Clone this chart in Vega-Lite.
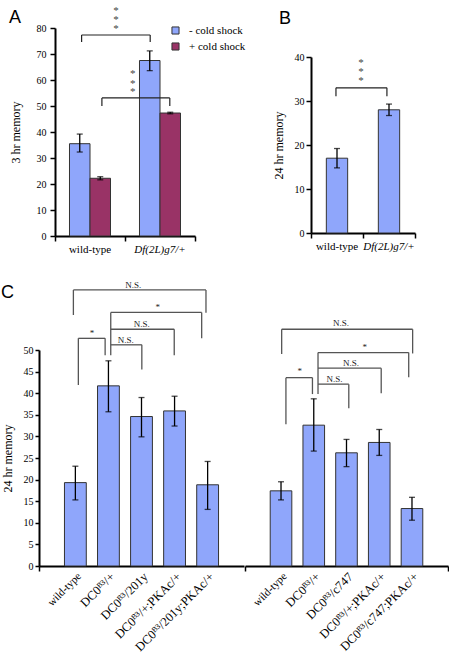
{
  "$schema": "https://vega.github.io/schema/vega-lite/v6.json",
  "padding": {"left": 1, "top": 4, "right": 0, "bottom": 0},
  "config": {
    "font": "Liberation Serif",
    "view": {"stroke": null},
    "axis": {"domainColor": "black", "domainWidth": 2, "tickColor": "black", "tickWidth": 1.5, "tickSize": 5, "labelColor": "black", "titleColor": "black", "labelFont": "Liberation Serif", "titleFont": "Liberation Serif", "titleFontWeight": "normal", "grid": false, "labelFontSize": 10, "titleFontSize": 12, "labelPadding": 2, "labelOverlap": false},
    "title": {"font": "Liberation Sans", "fontSize": 18, "fontWeight": "normal", "anchor": "start", "color": "black"}
  },
  "spacing": 27,
  "vconcat": [
    {
      "spacing": 76,
      "hconcat": [
        {
          "width": 156, "height": 208,
          "title": {"text": "A", "offset": -22},
          "layer": [
            {
              "data": {"values": [
                {"g": "wild-type", "s": "- cold shock", "v": 35.5, "lo": 32.3, "hi": 39.2},
                {"g": "wild-type", "s": "+ cold shock", "v": 22.2, "lo": 21.6, "hi": 22.8},
                {"g": "Df(2L)g7/+", "s": "- cold shock", "v": 67.5, "lo": 63.6, "hi": 71.2},
                {"g": "Df(2L)g7/+", "s": "+ cold shock", "v": 47.3, "lo": 47.0, "hi": 47.6}
              ]},
              "encoding": {
                "x": {"field": "g", "type": "nominal", "sort": null, "scale": {"paddingInner": 0, "paddingOuter": 0, "range": [16, 156]},
                  "axis": {"title": null, "labelAngle": 0, "ticks": false, "labelFontSize": 11, "labelPadding": 7,
                    "labelFontStyle": {"condition": {"test": "datum.value == 'Df(2L)g7/+'", "value": "italic"}, "value": "normal"}}},
                "xOffset": {"field": "s", "type": "nominal", "sort": null, "scale": {"paddingInner": 0, "paddingOuter": 0.707}}
              },
              "layer": [
                {
                  "mark": {"type": "bar", "stroke": "#333333", "strokeWidth": 1},
                  "encoding": {
                    "y": {"field": "v", "type": "quantitative", "scale": {"domain": [0, 80]},
                      "axis": {"title": "3 hr memory", "values": [0, 10, 20, 30, 40, 50, 60, 70, 80], "tickCount": 9, "titlePadding": 14, "labelPadding": 4, "offset": -16}},
                    "color": {"field": "s", "type": "nominal", "sort": null, "scale": {"range": ["#8fa6fb", "#993366"]},
                      "legend": {"title": null, "orient": "none", "legendX": 131, "legendY": -3, "symbolType": "square", "symbolSize": 50, "symbolStrokeColor": "#333333", "symbolStrokeWidth": 1, "labelFontSize": 11, "labelFont": "Liberation Serif", "labelColor": "black", "labelOffset": 8, "rowPadding": 3, "padding": 0}}
                  }
                },
                {"mark": {"type": "rule", "color": "black", "strokeWidth": 1.3},
                  "encoding": {"y": {"field": "lo", "type": "quantitative", "scale": {"domain": [0, 80]},
                      "axis": {"title": "3 hr memory", "values": [0, 10, 20, 30, 40, 50, 60, 70, 80], "tickCount": 9, "titlePadding": 14, "labelPadding": 4, "offset": -16}}, "y2": {"field": "hi"}}},
                {"mark": {"type": "tick", "color": "black", "thickness": 1.3, "size": 6},
                  "encoding": {"y": {"field": "lo", "type": "quantitative", "scale": {"domain": [0, 80]},
                      "axis": {"title": "3 hr memory", "values": [0, 10, 20, 30, 40, 50, 60, 70, 80], "tickCount": 9, "titlePadding": 14, "labelPadding": 4, "offset": -16}}}},
                {"mark": {"type": "tick", "color": "black", "thickness": 1.3, "size": 6},
                  "encoding": {"y": {"field": "hi", "type": "quantitative", "scale": {"domain": [0, 80]},
                      "axis": {"title": "3 hr memory", "values": [0, 10, 20, 30, 40, 50, 60, 70, 80], "tickCount": 9, "titlePadding": 14, "labelPadding": 4, "offset": -16}}}}
              ]
            },
            {
              "layer": [
                {
                  "data": {"values": [
                    {"x": 0.38, "x2": 1.36, "y": 77.3, "y2": 77.3},
                    {"x": 0.38, "x2": 0.38, "y": 77.3, "y2": 74.6},
                    {"x": 1.36, "x2": 1.36, "y": 77.3, "y2": 74.6},
                    {"x": 0.67, "x2": 1.64, "y": 53.1, "y2": 53.1},
                    {"x": 0.67, "x2": 0.67, "y": 53.1, "y2": 50.0},
                    {"x": 1.64, "x2": 1.64, "y": 53.1, "y2": 50.0}
                  ]},
                  "mark": {"type": "rule", "color": "#222222", "strokeWidth": 1.2},
                  "encoding": {
                    "x": {"field": "x", "type": "quantitative", "scale": {"domain": [0, 2], "nice": false, "zero": false, "range": [16, 156]},
                      "axis": {"orient": "bottom", "values": [0, 1, 2], "labels": false, "domain": false, "title": null, "tickSize": 5}},
                    "x2": {"field": "x2"},
                    "y": {"field": "y", "type": "quantitative", "scale": {"domain": [0, 80]},
                      "axis": {"title": "3 hr memory", "values": [0, 10, 20, 30, 40, 50, 60, 70, 80], "tickCount": 9, "titlePadding": 14, "labelPadding": 4, "offset": -16}},
                    "y2": {"field": "y2"}
                  }
                },
                {
                  "data": {"values": [
                    {"x": 0.87, "y": 86.6, "t": "*"},
                    {"x": 0.87, "y": 83.1, "t": "*"},
                    {"x": 0.87, "y": 79.7, "t": "*"},
                    {"x": 1.11, "y": 62.3, "t": "*"},
                    {"x": 1.11, "y": 58.6, "t": "*"},
                    {"x": 1.11, "y": 55.2, "t": "*"}
                  ]},
                  "mark": {"type": "text", "fontSize": 11, "color": "#444444", "baseline": "middle", "align": "center"},
                  "encoding": {
                    "x": {"field": "x", "type": "quantitative"},
                    "y": {"field": "y", "type": "quantitative", "scale": {"domain": [0, 80]},
                      "axis": {"title": "3 hr memory", "values": [0, 10, 20, 30, 40, 50, 60, 70, 80], "tickCount": 9, "titlePadding": 14, "labelPadding": 4, "offset": -16}},
                    "text": {"field": "t"}
                  }
                }
              ]
            }
          ],
          "resolve": {"scale": {"x": "independent"}}
        },
        {
          "width": 104, "height": 205,
          "title": {"text": "B", "offset": 0, "dx": 7},
          "layer": [
            {
              "data": {"values": [
                {"g": "wild-type", "v": 17.0, "lo": 14.8, "hi": 19.2},
                {"g": "Df(2L)g7/+", "v": 28.0, "lo": 26.7, "hi": 29.3}
              ]},
              "encoding": {
                "x": {"field": "g", "type": "nominal", "sort": null, "scale": {"paddingInner": 0, "paddingOuter": 0},
                  "axis": {"title": null, "labelAngle": 0, "ticks": false, "labelFontSize": 11, "labelPadding": 7,
                    "labelFontStyle": {"condition": {"test": "datum.value == 'Df(2L)g7/+'", "value": "italic"}, "value": "normal"}}}
              },
              "layer": [
                {
                  "mark": {"type": "bar", "stroke": "#333333", "strokeWidth": 1, "color": "#8fa6fb", "width": {"band": 0.41}},
                  "encoding": {
                    "y": {"field": "v", "type": "quantitative", "scale": {"domain": [0, 40], "range": [205, 29]},
                      "axis": {"title": "24 hr memory", "values": [0, 10, 20, 30, 40], "tickCount": 5, "titlePadding": 9}}
                  }
                },
                {"mark": {"type": "rule", "color": "black", "strokeWidth": 1.3},
                  "encoding": {"y": {"field": "lo", "type": "quantitative", "scale": {"domain": [0, 40], "range": [205, 29]},
                      "axis": {"title": "24 hr memory", "values": [0, 10, 20, 30, 40], "tickCount": 5, "titlePadding": 9}}, "y2": {"field": "hi"}}},
                {"mark": {"type": "tick", "color": "black", "thickness": 1.3, "size": 6},
                  "encoding": {"y": {"field": "lo", "type": "quantitative", "scale": {"domain": [0, 40], "range": [205, 29]},
                      "axis": {"title": "24 hr memory", "values": [0, 10, 20, 30, 40], "tickCount": 5, "titlePadding": 9}}}},
                {"mark": {"type": "tick", "color": "black", "thickness": 1.3, "size": 6},
                  "encoding": {"y": {"field": "hi", "type": "quantitative", "scale": {"domain": [0, 40], "range": [205, 29]},
                      "axis": {"title": "24 hr memory", "values": [0, 10, 20, 30, 40], "tickCount": 5, "titlePadding": 9}}}}
              ]
            },
            {
              "layer": [
                {
                  "data": {"values": [
                    {"x": 0.48, "x2": 1.46, "y": 33.0, "y2": 33.0},
                    {"x": 0.48, "x2": 0.48, "y": 33.0, "y2": 31.1},
                    {"x": 1.46, "x2": 1.46, "y": 33.0, "y2": 31.1}
                  ]},
                  "mark": {"type": "rule", "color": "#222222", "strokeWidth": 1.2},
                  "encoding": {
                    "x": {"field": "x", "type": "quantitative", "scale": {"domain": [0, 2], "nice": false, "zero": false},
                      "axis": {"orient": "bottom", "values": [0, 1, 2], "labels": false, "domain": false, "title": null, "tickSize": 5}},
                    "x2": {"field": "x2"},
                    "y": {"field": "y", "type": "quantitative", "scale": {"domain": [0, 40], "range": [205, 29]},
                      "axis": {"title": "24 hr memory", "values": [0, 10, 20, 30, 40], "tickCount": 5, "titlePadding": 9}},
                    "y2": {"field": "y2"}
                  }
                },
                {
                  "data": {"values": [
                    {"x": 0.96, "y": 38.6, "t": "*"},
                    {"x": 0.96, "y": 36.5, "t": "*"},
                    {"x": 0.96, "y": 34.5, "t": "*"}
                  ]},
                  "mark": {"type": "text", "fontSize": 11, "color": "#444444", "baseline": "middle", "align": "center"},
                  "encoding": {
                    "x": {"field": "x", "type": "quantitative"},
                    "y": {"field": "y", "type": "quantitative", "scale": {"domain": [0, 40], "range": [205, 29]},
                      "axis": {"title": "24 hr memory", "values": [0, 10, 20, 30, 40], "tickCount": 5, "titlePadding": 9}},
                    "text": {"field": "t"}
                  }
                }
              ]
            }
          ],
          "resolve": {"scale": {"x": "independent"}}
        }
      ]
    },
    {
      "spacing": 0,
      "hconcat": [
        {
          "width": 205, "height": 216,
          "title": {"text": "C", "offset": -21},
          "layer": [
            {
              "data": {"values": [
                {"g": "wild-type", "v": 19.3, "lo": 15.3, "hi": 23.1},
                {"g": "DC0ᴮ³/+", "v": 41.7, "lo": 35.7, "hi": 47.5},
                {"g": "DC0ᴮ³/201y", "v": 34.6, "lo": 29.9, "hi": 39.0},
                {"g": "DC0ᴮ³/+;PKAc/+", "v": 35.9, "lo": 32.4, "hi": 39.3},
                {"g": "DC0ᴮ³/201y;PKAc/+", "v": 18.8, "lo": 13.1, "hi": 24.2}
              ]},
              "encoding": {
                "x": {"field": "g", "type": "nominal", "sort": null, "scale": {"paddingInner": 0, "paddingOuter": 0.6},
                  "axis": {"title": null, "labelAngle": -45, "ticks": false, "labelPadding": 4,
                    "labelFontSize": {"condition": {"test": "datum.value == 'wild-type'", "value": 11}, "value": 12.5}}}
              },
              "layer": [
                {
                  "mark": {"type": "bar", "stroke": "#333333", "strokeWidth": 1, "color": "#8fa6fb", "width": {"band": 0.66}},
                  "encoding": {
                    "y": {"field": "v", "type": "quantitative", "scale": {"domain": [0, 50]},
                      "axis": {"title": "24 hr memory", "values": [0, 5, 10, 15, 20, 25, 30, 35, 40, 45, 50], "tickCount": 11, "titlePadding": 9, "tickSize": 4}}
                  }
                },
                {"mark": {"type": "rule", "color": "black", "strokeWidth": 1.3},
                  "encoding": {"y": {"field": "lo", "type": "quantitative", "scale": {"domain": [0, 50]},
                      "axis": {"title": "24 hr memory", "values": [0, 5, 10, 15, 20, 25, 30, 35, 40, 45, 50], "tickCount": 11, "titlePadding": 9, "tickSize": 4}}, "y2": {"field": "hi"}}},
                {"mark": {"type": "tick", "color": "black", "thickness": 1.3, "size": 6},
                  "encoding": {"y": {"field": "lo", "type": "quantitative", "scale": {"domain": [0, 50]},
                      "axis": {"title": "24 hr memory", "values": [0, 5, 10, 15, 20, 25, 30, 35, 40, 45, 50], "tickCount": 11, "titlePadding": 9, "tickSize": 4}}}},
                {"mark": {"type": "tick", "color": "black", "thickness": 1.3, "size": 6},
                  "encoding": {"y": {"field": "hi", "type": "quantitative", "scale": {"domain": [0, 50]},
                      "axis": {"title": "24 hr memory", "values": [0, 5, 10, 15, 20, 25, 30, 35, 40, 45, 50], "tickCount": 11, "titlePadding": 9, "tickSize": 4}}}}
              ]
            },
            {
              "layer": [
                {
                  "data": {"values": [
                    {"x": 1.04, "x2": 5.05, "y": 63.9, "y2": 63.9},
                    {"x": 1.04, "x2": 1.04, "y": 63.9, "y2": 58.1},
                    {"x": 5.05, "x2": 5.05, "y": 63.9, "y2": 58.6},
                    {"x": 2.17, "x2": 4.92, "y": 58.7, "y2": 58.7},
                    {"x": 4.92, "x2": 4.92, "y": 58.7, "y2": 52.7},
                    {"x": 2.17, "x2": 4.09, "y": 54.8, "y2": 54.8},
                    {"x": 4.09, "x2": 4.09, "y": 54.8, "y2": 48.8},
                    {"x": 2.17, "x2": 3.11, "y": 51.2, "y2": 51.2},
                    {"x": 3.11, "x2": 3.11, "y": 51.2, "y2": 45.5},
                    {"x": 1.19, "x2": 2.0, "y": 52.7, "y2": 52.7},
                    {"x": 1.19, "x2": 1.19, "y": 52.7, "y2": 41.9},
                    {"x": 2.0, "x2": 2.0, "y": 52.7, "y2": 48.8},
                    {"x": 2.17, "x2": 2.17, "y": 58.7, "y2": 48.8}
                  ]},
                  "mark": {"type": "rule", "color": "#555555", "strokeWidth": 1.3},
                  "encoding": {
                    "x": {"field": "x", "type": "quantitative", "scale": {"domain": [0, 6.2], "nice": false, "zero": false},
                      "axis": {"orient": "bottom", "values": [0], "labels": false, "domain": false, "title": null, "tickSize": 5}},
                    "x2": {"field": "x2"},
                    "y": {"field": "y", "type": "quantitative", "scale": {"domain": [0, 50]},
                      "axis": {"title": "24 hr memory", "values": [0, 5, 10, 15, 20, 25, 30, 35, 40, 45, 50], "tickCount": 11, "titlePadding": 9, "tickSize": 4}},
                    "y2": {"field": "y2"}
                  }
                },
                {
                  "data": {"values": [
                    {"x": 2.85, "y": 65.0, "t": "N.S."},
                    {"x": 3.59, "y": 59.9, "t": "*"},
                    {"x": 3.11, "y": 56.1, "t": "N.S."},
                    {"x": 2.62, "y": 52.4, "t": "N.S."},
                    {"x": 1.6, "y": 53.9, "t": "*"}
                  ]},
                  "mark": {"type": "text", "fontSize": 9, "color": "#222222", "baseline": "middle", "align": "center"},
                  "encoding": {
                    "x": {"field": "x", "type": "quantitative"},
                    "y": {"field": "y", "type": "quantitative", "scale": {"domain": [0, 50]},
                      "axis": {"title": "24 hr memory", "values": [0, 5, 10, 15, 20, 25, 30, 35, 40, 45, 50], "tickCount": 11, "titlePadding": 9, "tickSize": 4}},
                    "text": {"field": "t"}
                  }
                }
              ]
            }
          ],
          "resolve": {"scale": {"x": "independent"}}
        },
        {
          "width": 203, "height": 216,
          "layer": [
            {
              "data": {"values": [
                {"g": "wild-type", "v": 17.4, "lo": 15.3, "hi": 19.5},
                {"g": "DC0ᴮ³/+", "v": 32.6, "lo": 26.6, "hi": 38.7},
                {"g": "DC0ᴮ³/c747", "v": 26.2, "lo": 23.0, "hi": 29.3},
                {"g": "DC0ᴮ³/+;PKAc/+", "v": 28.6, "lo": 25.6, "hi": 31.6},
                {"g": "DC0ᴮ³/c747;PKAc/+", "v": 13.3, "lo": 10.6, "hi": 15.9}
              ]},
              "encoding": {
                "x": {"field": "g", "type": "nominal", "sort": null, "scale": {"paddingInner": 0, "paddingOuter": 0.6},
                  "axis": {"title": null, "labelAngle": -45, "ticks": false, "labelPadding": 4,
                    "labelFontSize": {"condition": {"test": "datum.value == 'wild-type'", "value": 11}, "value": 12.5}}}
              },
              "layer": [
                {
                  "mark": {"type": "bar", "stroke": "#333333", "strokeWidth": 1, "color": "#8fa6fb", "width": {"band": 0.66}},
                  "encoding": {
                    "y": {"field": "v", "type": "quantitative", "scale": {"domain": [0, 50]}, "axis": null}
                  }
                },
                {"mark": {"type": "rule", "color": "black", "strokeWidth": 1.3},
                  "encoding": {"y": {"field": "lo", "type": "quantitative", "scale": {"domain": [0, 50]}, "axis": null}, "y2": {"field": "hi"}}},
                {"mark": {"type": "tick", "color": "black", "thickness": 1.3, "size": 6},
                  "encoding": {"y": {"field": "lo", "type": "quantitative", "scale": {"domain": [0, 50]}, "axis": null}}},
                {"mark": {"type": "tick", "color": "black", "thickness": 1.3, "size": 6},
                  "encoding": {"y": {"field": "hi", "type": "quantitative", "scale": {"domain": [0, 50]}, "axis": null}}}
              ]
            },
            {
              "layer": [
                {
                  "data": {"values": [
                    {"x": 1.12, "x2": 5.12, "y": 54.8, "y2": 54.8},
                    {"x": 1.12, "x2": 1.12, "y": 54.8, "y2": 49.1},
                    {"x": 5.12, "x2": 5.12, "y": 54.8, "y2": 49.2},
                    {"x": 2.23, "x2": 5.0, "y": 49.4, "y2": 49.4},
                    {"x": 5.0, "x2": 5.0, "y": 49.4, "y2": 43.7},
                    {"x": 2.23, "x2": 4.16, "y": 45.8, "y2": 45.8},
                    {"x": 4.16, "x2": 4.16, "y": 45.8, "y2": 40.0},
                    {"x": 2.23, "x2": 3.17, "y": 42.1, "y2": 42.1},
                    {"x": 3.17, "x2": 3.17, "y": 42.1, "y2": 36.5},
                    {"x": 1.25, "x2": 2.06, "y": 43.6, "y2": 43.6},
                    {"x": 1.25, "x2": 1.25, "y": 43.6, "y2": 32.8},
                    {"x": 2.06, "x2": 2.06, "y": 43.6, "y2": 39.8},
                    {"x": 2.23, "x2": 2.23, "y": 49.4, "y2": 39.8}
                  ]},
                  "mark": {"type": "rule", "color": "#555555", "strokeWidth": 1.3},
                  "encoding": {
                    "x": {"field": "x", "type": "quantitative", "scale": {"domain": [0, 6.2], "nice": false, "zero": false},
                      "axis": {"orient": "bottom", "values": [0, 6.2], "labels": false, "domain": false, "title": null, "tickSize": 5}},
                    "x2": {"field": "x2"},
                    "y": {"field": "y", "type": "quantitative", "scale": {"domain": [0, 50]}, "axis": null},
                    "y2": {"field": "y2"}
                  }
                },
                {
                  "data": {"values": [
                    {"x": 2.93, "y": 56.2, "t": "N.S."},
                    {"x": 3.66, "y": 50.6, "t": "*"},
                    {"x": 3.24, "y": 47.1, "t": "N.S."},
                    {"x": 2.73, "y": 43.4, "t": "N.S."},
                    {"x": 1.67, "y": 45.1, "t": "*"}
                  ]},
                  "mark": {"type": "text", "fontSize": 9, "color": "#222222", "baseline": "middle", "align": "center"},
                  "encoding": {
                    "x": {"field": "x", "type": "quantitative"},
                    "y": {"field": "y", "type": "quantitative", "scale": {"domain": [0, 50]}, "axis": null},
                    "text": {"field": "t"}
                  }
                }
              ]
            }
          ],
          "resolve": {"scale": {"x": "independent"}}
        }
      ]
    }
  ]
}
